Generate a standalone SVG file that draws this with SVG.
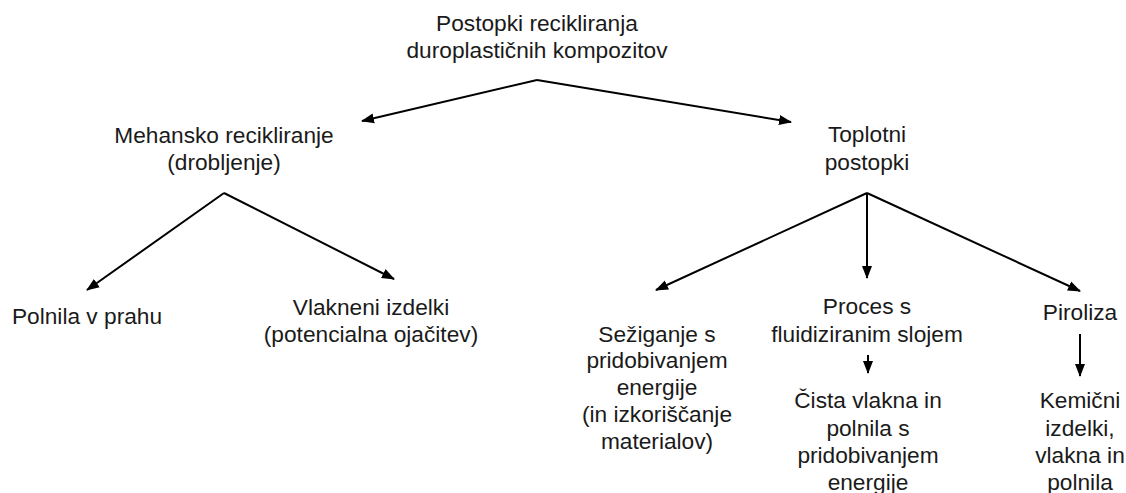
<svg xmlns="http://www.w3.org/2000/svg" width="1126" height="493" viewBox="0 0 1126 493">
<defs>
<style>
text{font-family:"Liberation Sans",Arial,sans-serif;font-size:22.7px;fill:#1a1a1a;text-anchor:middle}
.c line{stroke:#000;stroke-width:2;marker-end:url(#ah)}
</style>
<marker id="ah" markerUnits="userSpaceOnUse" markerWidth="14" markerHeight="12" refX="12" refY="5" orient="auto" viewBox="0 0 14 10">
<path d="M0,0 L13,5 L0,10 Z" fill="#000"/>
</marker>
</defs>
<rect width="1126" height="493" fill="#fff"/>
<g class="c" id="connectors">
<line x1="537" y1="80" x2="362" y2="121"/>
<line x1="537" y1="80" x2="791" y2="122"/>
<line x1="224" y1="193" x2="87" y2="290"/>
<line x1="224" y1="193" x2="394" y2="279"/>
<line x1="867" y1="193" x2="656" y2="290"/>
<line x1="867" y1="193" x2="867" y2="278"/>
<line x1="867" y1="193" x2="1080" y2="291"/>
<line x1="868" y1="355" x2="868" y2="373"/>
<line x1="1080" y1="334" x2="1080" y2="376"/>
</g>
<g id="root"><text x="537" y="31">Postopki recikliranja</text><text x="537" y="58">duroplastičnih kompozitov</text></g>
<g id="mehansko"><text x="224" y="143">Mehansko recikliranje</text><text x="224" y="170">(drobljenje)</text></g>
<g id="toplotni"><text x="867" y="142">Toplotni</text><text x="867" y="170">postopki</text></g>
<g id="polnila"><text x="87" y="324">Polnila v prahu</text></g>
<g id="vlakneni"><text x="371" y="315">Vlakneni izdelki</text><text x="371" y="342">(potencialna ojačitev)</text></g>
<g id="seziganje"><text x="657" y="342">Sežiganje s</text><text x="657" y="368">pridobivanjem</text><text x="657" y="395">energije</text><text x="657" y="422">(in izkoriščanje</text><text x="657" y="449">materialov)</text></g>
<g id="proces"><text x="867" y="314">Proces s</text><text x="867" y="342">fluidiziranim slojem</text></g>
<g id="cista"><text x="868" y="408">Čista vlakna in</text><text x="868" y="436">polnila s</text><text x="868" y="463">pridobivanjem</text><text x="868" y="490">energije</text></g>
<g id="piroliza"><text x="1080" y="320">Piroliza</text></g>
<g id="kemicni"><text x="1080" y="408">Kemični</text><text x="1080" y="436">izdelki,</text><text x="1080" y="463">vlakna in</text><text x="1080" y="490">polnila</text></g>
</svg>
